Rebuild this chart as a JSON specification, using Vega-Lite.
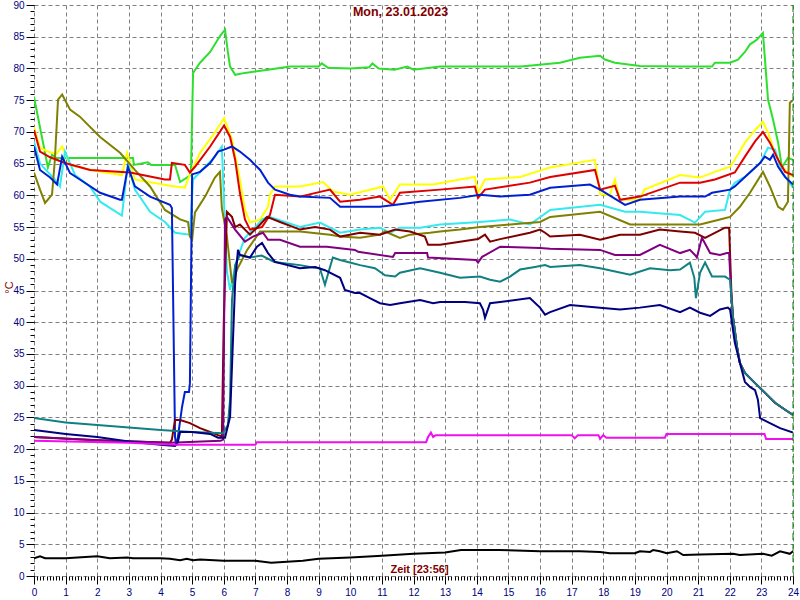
{
  "$schema": "https://vega.github.io/schema/vega-lite/v6.json",
  "width": 759,
  "height": 571,
  "autosize": "none",
  "padding": {"left": 34, "top": 5, "right": 7, "bottom": 24},
  "background": "white",
  "title": {"text": "Mon, 23.01.2023", "anchor": "middle", "offset": -18, "dx": -13, "color": "#800000", "fontSize": 12.5, "font": "Liberation Sans", "fontWeight": "bold"},
  "config": {"view": {"stroke": null}},
  "resolve": {"axis": {"x": "independent", "y": "independent"}},
  "layer": [
    {
      "data": {"values": [
{"s":"s01","h":0,"v":75.5},{"s":"s01","h":0.44,"v":64.4},{"s":"s01","h":0.57,"v":66.4},{"s":"s01","h":0.7,"v":65.9},{"s":"s01","h":3.13,"v":65.9},{"s":"s01","h":3.16,"v":64.8},{"s":"s01","h":3.6,"v":65.2},{"s":"s01","h":3.7,"v":64.8},{"s":"s01","h":4.46,"v":64.8},{"s":"s01","h":4.62,"v":62.1},{"s":"s01","h":4.87,"v":62.9},{"s":"s01","h":4.96,"v":63.2},{"s":"s01","h":5.03,"v":79.3},{"s":"s01","h":5.25,"v":80.9},{"s":"s01","h":5.57,"v":82.6},{"s":"s01","h":5.72,"v":83.8},{"s":"s01","h":5.88,"v":85.1},{"s":"s01","h":6.04,"v":86.1},{"s":"s01","h":6.13,"v":82.6},{"s":"s01","h":6.2,"v":80.3},{"s":"s01","h":6.36,"v":79},{"s":"s01","h":6.67,"v":79.3},{"s":"s01","h":6.99,"v":79.5},{"s":"s01","h":7.4,"v":79.8},{"s":"s01","h":8.09,"v":80.3},{"s":"s01","h":9.0,"v":80.3},{"s":"s01","h":9.1,"v":80.8},{"s":"s01","h":9.3,"v":80.1},{"s":"s01","h":10,"v":80},{"s":"s01","h":10.6,"v":80.2},{"s":"s01","h":10.7,"v":80.8},{"s":"s01","h":10.9,"v":80},{"s":"s01","h":11.4,"v":79.8},{"s":"s01","h":11.8,"v":80.3},{"s":"s01","h":12.0,"v":79.8},{"s":"s01","h":12.84,"v":80.3},{"s":"s01","h":15.4,"v":80.3},{"s":"s01","h":16.63,"v":80.9},{"s":"s01","h":17.26,"v":81.7},{"s":"s01","h":17.9,"v":82},{"s":"s01","h":18.05,"v":81.4},{"s":"s01","h":18.37,"v":80.9},{"s":"s01","h":19.16,"v":80.4},{"s":"s01","h":20.43,"v":80.3},{"s":"s01","h":21.44,"v":80.3},{"s":"s01","h":21.53,"v":80.9},{"s":"s01","h":22.01,"v":80.9},{"s":"s01","h":22.26,"v":81.4},{"s":"s01","h":22.48,"v":82.6},{"s":"s01","h":22.64,"v":83.8},{"s":"s01","h":22.85,"v":84.5},{"s":"s01","h":23.05,"v":85.6},{"s":"s01","h":23.21,"v":75.1},{"s":"s01","h":23.37,"v":71.9},{"s":"s01","h":23.53,"v":68.3},{"s":"s01","h":23.65,"v":64.4},{"s":"s01","h":23.84,"v":65.9},{"s":"s01","h":24,"v":65.6},
{"s":"s02","h":0,"v":70.8},{"s":"s02","h":0.19,"v":67.5},{"s":"s02","h":0.44,"v":66.9},{"s":"s02","h":0.7,"v":66.5},{"s":"s02","h":0.89,"v":67.7},{"s":"s02","h":1.14,"v":64.8},{"s":"s02","h":2.0,"v":63.8},{"s":"s02","h":2.78,"v":63.2},{"s":"s02","h":2.94,"v":66.7},{"s":"s02","h":3.19,"v":62.5},{"s":"s02","h":4.3,"v":61.5},{"s":"s02","h":4.46,"v":61.4},{"s":"s02","h":4.77,"v":61.2},{"s":"s02","h":4.93,"v":63.3},{"s":"s02","h":5.25,"v":66.7},{"s":"s02","h":5.72,"v":69.9},{"s":"s02","h":6.01,"v":72.2},{"s":"s02","h":6.26,"v":68.8},{"s":"s02","h":6.51,"v":62.5},{"s":"s02","h":6.67,"v":57.7},{"s":"s02","h":6.83,"v":55.7},{"s":"s02","h":7.15,"v":56.2},{"s":"s02","h":7.4,"v":58.2},{"s":"s02","h":7.46,"v":60.1},{"s":"s02","h":7.62,"v":61.4},{"s":"s02","h":8.41,"v":61.4},{"s":"s02","h":9.14,"v":62.1},{"s":"s02","h":9.45,"v":60.6},{"s":"s02","h":9.99,"v":60.1},{"s":"s02","h":11.04,"v":61.4},{"s":"s02","h":11.26,"v":59.3},{"s":"s02","h":11.57,"v":61.7},{"s":"s02","h":12.62,"v":61.7},{"s":"s02","h":13.47,"v":62.5},{"s":"s02","h":13.94,"v":62.9},{"s":"s02","h":14.04,"v":60.4},{"s":"s02","h":14.26,"v":62.5},{"s":"s02","h":15.37,"v":62.9},{"s":"s02","h":16.32,"v":64.4},{"s":"s02","h":17.74,"v":65.6},{"s":"s02","h":17.9,"v":60.2},{"s":"s02","h":18.2,"v":60.0},{"s":"s02","h":18.37,"v":62.5},{"s":"s02","h":18.53,"v":59.3},{"s":"s02","h":19.16,"v":59.3},{"s":"s02","h":19.3,"v":60.9},{"s":"s02","h":20.43,"v":63.2},{"s":"s02","h":21.06,"v":62.8},{"s":"s02","h":21.53,"v":63.7},{"s":"s02","h":22.01,"v":64.5},{"s":"s02","h":22.16,"v":65.6},{"s":"s02","h":22.48,"v":68.3},{"s":"s02","h":22.8,"v":70.3},{"s":"s02","h":23.05,"v":71.6},{"s":"s02","h":23.21,"v":69.9},{"s":"s02","h":23.43,"v":66.7},{"s":"s02","h":23.65,"v":64.5},{"s":"s02","h":24,"v":62.9},
{"s":"s03","h":0,"v":68.5},{"s":"s03","h":0.19,"v":65},{"s":"s03","h":0.66,"v":62.5},{"s":"s03","h":0.82,"v":61.4},{"s":"s03","h":0.98,"v":66.9},{"s":"s03","h":1.3,"v":63.2},{"s":"s03","h":1.77,"v":61.4},{"s":"s03","h":2.09,"v":59},{"s":"s03","h":2.78,"v":56.8},{"s":"s03","h":2.97,"v":65.1},{"s":"s03","h":3.19,"v":60.9},{"s":"s03","h":3.67,"v":57.4},{"s":"s03","h":4.14,"v":55.8},{"s":"s03","h":4.46,"v":54.1},{"s":"s03","h":4.93,"v":53.8},{"s":"s03","h":5.03,"v":62.5},{"s":"s03","h":5.41,"v":64.5},{"s":"s03","h":5.72,"v":66.1},{"s":"s03","h":5.94,"v":67.7},{"s":"s03","h":6.0,"v":60},{"s":"s03","h":6.1,"v":48},{"s":"s03","h":6.2,"v":45.1},{"s":"s03","h":6.42,"v":50},{"s":"s03","h":6.67,"v":53.3},{"s":"s03","h":7.0,"v":55},{"s":"s03","h":7.21,"v":56.2},{"s":"s03","h":7.4,"v":56.7},{"s":"s03","h":8.41,"v":55},{"s":"s03","h":9.04,"v":55.7},{"s":"s03","h":9.68,"v":54.1},{"s":"s03","h":10.31,"v":54.6},{"s":"s03","h":10.94,"v":54.9},{"s":"s03","h":11.26,"v":54.1},{"s":"s03","h":11.57,"v":54.9},{"s":"s03","h":12.21,"v":54.9},{"s":"s03","h":12.84,"v":55.4},{"s":"s03","h":14.1,"v":55.8},{"s":"s03","h":15.05,"v":56.2},{"s":"s03","h":15.68,"v":55.4},{"s":"s03","h":16.32,"v":57.7},{"s":"s03","h":17.9,"v":58.5},{"s":"s03","h":18.69,"v":57.4},{"s":"s03","h":19.16,"v":57.4},{"s":"s03","h":20.43,"v":56.9},{"s":"s03","h":20.9,"v":55.7},{"s":"s03","h":21.22,"v":57.4},{"s":"s03","h":21.85,"v":57.7},{"s":"s03","h":22.01,"v":60.9},{"s":"s03","h":22.16,"v":62},{"s":"s03","h":22.48,"v":62.9},{"s":"s03","h":22.96,"v":65.1},{"s":"s03","h":23.21,"v":67.5},{"s":"s03","h":23.43,"v":67.2},{"s":"s03","h":23.65,"v":63.6},{"s":"s03","h":24,"v":61.2},
{"s":"s04","h":0,"v":63.6},{"s":"s04","h":0.19,"v":60.9},{"s":"s04","h":0.35,"v":58.8},{"s":"s04","h":0.57,"v":60.1},{"s":"s04","h":0.66,"v":65.6},{"s":"s04","h":0.76,"v":75.1},{"s":"s04","h":0.89,"v":75.9},{"s":"s04","h":1.14,"v":73.5},{"s":"s04","h":1.45,"v":72.4},{"s":"s04","h":2.09,"v":69.2},{"s":"s04","h":2.72,"v":66.7},{"s":"s04","h":3.19,"v":64},{"s":"s04","h":3.67,"v":61.4},{"s":"s04","h":4.14,"v":57.7},{"s":"s04","h":4.62,"v":56.2},{"s":"s04","h":4.87,"v":55.8},{"s":"s04","h":4.93,"v":53.5},{"s":"s04","h":5.0,"v":53},{"s":"s04","h":5.09,"v":57.3},{"s":"s04","h":5.41,"v":59.8},{"s":"s04","h":5.72,"v":62.8},{"s":"s04","h":5.88,"v":63.7},{"s":"s04","h":5.94,"v":58},{"s":"s04","h":6.1,"v":53.5},{"s":"s04","h":6.26,"v":46.2},{"s":"s04","h":6.42,"v":48.3},{"s":"s04","h":6.74,"v":51.4},{"s":"s04","h":7.15,"v":54.3},{"s":"s04","h":8.41,"v":54.3},{"s":"s04","h":9.36,"v":53.8},{"s":"s04","h":9.68,"v":53.5},{"s":"s04","h":10.31,"v":53.3},{"s":"s04","h":10.94,"v":53.8},{"s":"s04","h":11.1,"v":54.3},{"s":"s04","h":11.57,"v":53.3},{"s":"s04","h":11.89,"v":53.8},{"s":"s04","h":12.52,"v":54.1},{"s":"s04","h":12.84,"v":54.3},{"s":"s04","h":13.47,"v":54.6},{"s":"s04","h":14.1,"v":55},{"s":"s04","h":15.05,"v":55.4},{"s":"s04","h":16.0,"v":55.8},{"s":"s04","h":16.32,"v":56.6},{"s":"s04","h":17.9,"v":57.4},{"s":"s04","h":18.85,"v":55.4},{"s":"s04","h":20.43,"v":55.4},{"s":"s04","h":21.06,"v":55.4},{"s":"s04","h":21.69,"v":56.2},{"s":"s04","h":22.01,"v":56.6},{"s":"s04","h":22.32,"v":58.2},{"s":"s04","h":22.64,"v":60.4},{"s":"s04","h":23.05,"v":63.7},{"s":"s04","h":23.27,"v":61.4},{"s":"s04","h":23.53,"v":58.2},{"s":"s04","h":23.68,"v":57.7},{"s":"s04","h":23.84,"v":59},{"s":"s04","h":23.9,"v":74.6},{"s":"s04","h":24,"v":75},
{"s":"s05","h":0,"v":70.3},{"s":"s05","h":0.19,"v":66.9},{"s":"s05","h":0.51,"v":66},{"s":"s05","h":0.98,"v":65.1},{"s":"s05","h":1.77,"v":64},{"s":"s05","h":3.04,"v":63.6},{"s":"s05","h":4.14,"v":62.5},{"s":"s05","h":4.3,"v":62.5},{"s":"s05","h":4.36,"v":65.1},{"s":"s05","h":4.77,"v":64.8},{"s":"s05","h":4.93,"v":63.6},{"s":"s05","h":5.09,"v":64.5},{"s":"s05","h":5.57,"v":67.7},{"s":"s05","h":6.01,"v":71},{"s":"s05","h":6.2,"v":69.2},{"s":"s05","h":6.36,"v":65.6},{"s":"s05","h":6.51,"v":60.4},{"s":"s05","h":6.67,"v":56.2},{"s":"s05","h":6.83,"v":54.6},{"s":"s05","h":7.21,"v":55},{"s":"s05","h":7.46,"v":56.9},{"s":"s05","h":7.62,"v":60.1},{"s":"s05","h":8.41,"v":59.8},{"s":"s05","h":9.36,"v":60.9},{"s":"s05","h":9.68,"v":59},{"s":"s05","h":10.31,"v":59.3},{"s":"s05","h":10.94,"v":59.8},{"s":"s05","h":11.35,"v":58.5},{"s":"s05","h":11.57,"v":60.4},{"s":"s05","h":12.84,"v":60.9},{"s":"s05","h":13.94,"v":61.4},{"s":"s05","h":14.04,"v":59.6},{"s":"s05","h":14.26,"v":60.9},{"s":"s05","h":15.68,"v":62},{"s":"s05","h":16.32,"v":62.9},{"s":"s05","h":17.74,"v":64},{"s":"s05","h":17.9,"v":60.9},{"s":"s05","h":18.37,"v":61.5},{"s":"s05","h":18.53,"v":59.3},{"s":"s05","h":19.16,"v":59.8},{"s":"s05","h":20.43,"v":62},{"s":"s05","h":21.06,"v":62},{"s":"s05","h":21.53,"v":62.5},{"s":"s05","h":22.16,"v":63.6},{"s":"s05","h":22.48,"v":66.1},{"s":"s05","h":22.8,"v":68.5},{"s":"s05","h":23.05,"v":70},{"s":"s05","h":23.27,"v":68.3},{"s":"s05","h":23.53,"v":65.6},{"s":"s05","h":23.75,"v":63.7},{"s":"s05","h":24,"v":63.2},
{"s":"s06","h":0,"v":67.7},{"s":"s06","h":0.19,"v":64},{"s":"s06","h":0.51,"v":62.8},{"s":"s06","h":0.73,"v":61.7},{"s":"s06","h":0.89,"v":66.1},{"s":"s06","h":1.14,"v":63.5},{"s":"s06","h":1.45,"v":62.5},{"s":"s06","h":2.09,"v":60.4},{"s":"s06","h":2.72,"v":59.3},{"s":"s06","h":2.78,"v":59.3},{"s":"s06","h":2.97,"v":64.5},{"s":"s06","h":3.19,"v":61.4},{"s":"s06","h":3.67,"v":59.8},{"s":"s06","h":4.3,"v":58.5},{"s":"s06","h":4.36,"v":58},{"s":"s06","h":4.46,"v":21.9},{"s":"s06","h":4.5,"v":20.5},{"s":"s06","h":4.55,"v":21.9},{"s":"s06","h":4.68,"v":26.6},{"s":"s06","h":4.77,"v":29},{"s":"s06","h":4.9,"v":29},{"s":"s06","h":4.93,"v":30.4},{"s":"s06","h":5.0,"v":63.3},{"s":"s06","h":5.25,"v":63.7},{"s":"s06","h":5.57,"v":65.1},{"s":"s06","h":5.82,"v":66.9},{"s":"s06","h":6.01,"v":67.2},{"s":"s06","h":6.26,"v":67.7},{"s":"s06","h":6.51,"v":66.9},{"s":"s06","h":6.83,"v":65.6},{"s":"s06","h":7.15,"v":64},{"s":"s06","h":7.4,"v":62},{"s":"s06","h":7.62,"v":60.9},{"s":"s06","h":8.09,"v":60.1},{"s":"s06","h":8.41,"v":59.8},{"s":"s06","h":9.36,"v":59.6},{"s":"s06","h":9.68,"v":58.2},{"s":"s06","h":10.94,"v":58.2},{"s":"s06","h":12.21,"v":59},{"s":"s06","h":13.47,"v":59.6},{"s":"s06","h":14.1,"v":60.1},{"s":"s06","h":14.74,"v":59.8},{"s":"s06","h":15.68,"v":60.1},{"s":"s06","h":16.32,"v":61.2},{"s":"s06","h":17.58,"v":61.7},{"s":"s06","h":17.9,"v":60.9},{"s":"s06","h":18.69,"v":58.5},{"s":"s06","h":19.16,"v":59.3},{"s":"s06","h":20.43,"v":59.8},{"s":"s06","h":21.22,"v":59.8},{"s":"s06","h":21.44,"v":60.4},{"s":"s06","h":22.01,"v":60.9},{"s":"s06","h":22.16,"v":61.4},{"s":"s06","h":22.48,"v":62.9},{"s":"s06","h":22.96,"v":65.1},{"s":"s06","h":23.11,"v":66.1},{"s":"s06","h":23.27,"v":65.6},{"s":"s06","h":23.37,"v":66.4},{"s":"s06","h":23.53,"v":64.5},{"s":"s06","h":23.75,"v":62.9},{"s":"s06","h":24,"v":61.7},
{"s":"s07","h":0,"v":21.9},{"s":"s07","h":2,"v":21.4},{"s":"s07","h":4.3,"v":21.0},{"s":"s07","h":4.36,"v":21.5},{"s":"s07","h":4.46,"v":24.6},{"s":"s07","h":4.62,"v":24.6},{"s":"s07","h":4.93,"v":24.1},{"s":"s07","h":5.25,"v":23.3},{"s":"s07","h":5.57,"v":22.7},{"s":"s07","h":5.82,"v":22.2},{"s":"s07","h":5.94,"v":22.0},{"s":"s07","h":6.0,"v":40},{"s":"s07","h":6.1,"v":57.4},{"s":"s07","h":6.26,"v":56.6},{"s":"s07","h":6.36,"v":55},{"s":"s07","h":6.51,"v":55.4},{"s":"s07","h":6.83,"v":53.8},{"s":"s07","h":7.15,"v":55.4},{"s":"s07","h":7.37,"v":56.6},{"s":"s07","h":7.78,"v":55.8},{"s":"s07","h":8.41,"v":54.6},{"s":"s07","h":8.89,"v":55},{"s":"s07","h":9.36,"v":54.6},{"s":"s07","h":9.68,"v":53.5},{"s":"s07","h":9.99,"v":53.8},{"s":"s07","h":10.31,"v":54.1},{"s":"s07","h":10.94,"v":53.8},{"s":"s07","h":11.42,"v":54.6},{"s":"s07","h":11.89,"v":54.3},{"s":"s07","h":12.36,"v":53.5},{"s":"s07","h":12.46,"v":52.2},{"s":"s07","h":12.84,"v":52.2},{"s":"s07","h":13.47,"v":52.7},{"s":"s07","h":14.04,"v":53.1},{"s":"s07","h":14.1,"v":53.3},{"s":"s07","h":14.26,"v":53.8},{"s":"s07","h":14.42,"v":52.7},{"s":"s07","h":14.74,"v":53.1},{"s":"s07","h":15.68,"v":54.1},{"s":"s07","h":16.0,"v":54.6},{"s":"s07","h":16.16,"v":54.1},{"s":"s07","h":16.32,"v":53.5},{"s":"s07","h":17.26,"v":53.8},{"s":"s07","h":17.9,"v":53},{"s":"s07","h":18.53,"v":53.8},{"s":"s07","h":19.16,"v":53.8},{"s":"s07","h":19.79,"v":54.6},{"s":"s07","h":20.43,"v":54.3},{"s":"s07","h":20.9,"v":54.1},{"s":"s07","h":21.22,"v":53.3},{"s":"s07","h":21.53,"v":54.1},{"s":"s07","h":21.85,"v":54.9},{"s":"s07","h":21.98,"v":54.9},{"s":"s07","h":22.05,"v":45},{"s":"s07","h":22.1,"v":40.9},{"s":"s07","h":22.23,"v":36.1},{"s":"s07","h":22.32,"v":33.6},{"s":"s07","h":22.48,"v":32},{"s":"s07","h":22.8,"v":30.4},{"s":"s07","h":23.11,"v":28.9},{"s":"s07","h":23.43,"v":27.3},{"s":"s07","h":23.75,"v":26.2},{"s":"s07","h":24,"v":25.4},
{"s":"s08","h":0,"v":21.9},{"s":"s08","h":2,"v":21.4},{"s":"s08","h":4.3,"v":21.0},{"s":"s08","h":5.9,"v":21.3},{"s":"s08","h":5.98,"v":21.5},{"s":"s08","h":6.04,"v":56.2},{"s":"s08","h":6.1,"v":56.6},{"s":"s08","h":6.36,"v":54.6},{"s":"s08","h":6.67,"v":52.7},{"s":"s08","h":6.92,"v":53.5},{"s":"s08","h":7.24,"v":54.1},{"s":"s08","h":7.4,"v":53},{"s":"s08","h":7.78,"v":53},{"s":"s08","h":8.41,"v":51.9},{"s":"s08","h":9.26,"v":51.9},{"s":"s08","h":10.15,"v":51.4},{"s":"s08","h":10.25,"v":51.1},{"s":"s08","h":11.35,"v":50.3},{"s":"s08","h":11.42,"v":50.9},{"s":"s08","h":12.43,"v":50.9},{"s":"s08","h":12.46,"v":50.2},{"s":"s08","h":13.98,"v":49.8},{"s":"s08","h":14.04,"v":49.4},{"s":"s08","h":14.17,"v":50.3},{"s":"s08","h":14.74,"v":51.9},{"s":"s08","h":16.0,"v":51.7},{"s":"s08","h":16.32,"v":51.6},{"s":"s08","h":17.9,"v":51.4},{"s":"s08","h":18.37,"v":50.6},{"s":"s08","h":19.16,"v":50.6},{"s":"s08","h":19.79,"v":52.2},{"s":"s08","h":20.43,"v":50.9},{"s":"s08","h":20.74,"v":51.4},{"s":"s08","h":20.9,"v":50.6},{"s":"s08","h":20.96,"v":50.2},{"s":"s08","h":21.12,"v":53.3},{"s":"s08","h":21.38,"v":50.9},{"s":"s08","h":21.69,"v":50.6},{"s":"s08","h":21.91,"v":50.9},{"s":"s08","h":21.98,"v":50.9},{"s":"s08","h":22.05,"v":44},{"s":"s08","h":22.1,"v":40.9},{"s":"s08","h":22.23,"v":36.1},{"s":"s08","h":22.32,"v":33.6},{"s":"s08","h":22.48,"v":32},{"s":"s08","h":22.8,"v":30.4},{"s":"s08","h":23.11,"v":28.9},{"s":"s08","h":23.43,"v":27.3},{"s":"s08","h":23.75,"v":26.2},{"s":"s08","h":24,"v":25.4},
{"s":"s09","h":0,"v":24.9},{"s":"s09","h":1,"v":24.2},{"s":"s09","h":2,"v":23.8},{"s":"s09","h":3,"v":23.4},{"s":"s09","h":4,"v":23},{"s":"s09","h":5,"v":22.7},{"s":"s09","h":5.98,"v":22.5},{"s":"s09","h":6.13,"v":23.8},{"s":"s09","h":6.2,"v":27.8},{"s":"s09","h":6.26,"v":43.5},{"s":"s09","h":6.36,"v":49},{"s":"s09","h":6.51,"v":50.6},{"s":"s09","h":6.83,"v":50.2},{"s":"s09","h":7.2,"v":50.5},{"s":"s09","h":7.6,"v":49.5},{"s":"s09","h":8.41,"v":49},{"s":"s09","h":8.73,"v":48.7},{"s":"s09","h":9.04,"v":48.5},{"s":"s09","h":9.2,"v":45.9},{"s":"s09","h":9.36,"v":48.7},{"s":"s09","h":9.45,"v":50.2},{"s":"s09","h":9.68,"v":49.8},{"s":"s09","h":9.99,"v":49.4},{"s":"s09","h":10.31,"v":49},{"s":"s09","h":10.78,"v":48.5},{"s":"s09","h":11.1,"v":47.4},{"s":"s09","h":11.42,"v":47.2},{"s":"s09","h":11.57,"v":47.8},{"s":"s09","h":12.21,"v":48.5},{"s":"s09","h":12.84,"v":47.8},{"s":"s09","h":13.47,"v":47},{"s":"s09","h":14.1,"v":47.2},{"s":"s09","h":14.42,"v":46.7},{"s":"s09","h":14.74,"v":46.4},{"s":"s09","h":15.05,"v":47.2},{"s":"s09","h":15.37,"v":48.3},{"s":"s09","h":15.84,"v":48.7},{"s":"s09","h":16.16,"v":49},{"s":"s09","h":16.32,"v":48.7},{"s":"s09","h":17.26,"v":49},{"s":"s09","h":17.9,"v":48.5},{"s":"s09","h":18.85,"v":47.5},{"s":"s09","h":19.48,"v":48.5},{"s":"s09","h":20.11,"v":48.2},{"s":"s09","h":20.43,"v":48.3},{"s":"s09","h":20.74,"v":49.4},{"s":"s09","h":20.88,"v":47},{"s":"s09","h":20.93,"v":43.8},{"s":"s09","h":21.06,"v":47.8},{"s":"s09","h":21.22,"v":49.4},{"s":"s09","h":21.44,"v":47.2},{"s":"s09","h":21.85,"v":47.2},{"s":"s09","h":22.01,"v":46.7},{"s":"s09","h":22.1,"v":40.9},{"s":"s09","h":22.23,"v":36.1},{"s":"s09","h":22.32,"v":33.6},{"s":"s09","h":22.48,"v":32},{"s":"s09","h":22.8,"v":30.4},{"s":"s09","h":23.11,"v":28.9},{"s":"s09","h":23.43,"v":27.3},{"s":"s09","h":23.75,"v":26.2},{"s":"s09","h":24,"v":25.4},
{"s":"s10","h":0,"v":23},{"s":"s10","h":1,"v":22.4},{"s":"s10","h":2,"v":21.9},{"s":"s10","h":3,"v":21.2},{"s":"s10","h":4,"v":20.7},{"s":"s10","h":4.46,"v":20.5},{"s":"s10","h":4.55,"v":21.1},{"s":"s10","h":4.62,"v":22.7},{"s":"s10","h":5.0,"v":22.7},{"s":"s10","h":5.57,"v":22.4},{"s":"s10","h":5.82,"v":21.8},{"s":"s10","h":6.04,"v":21.8},{"s":"s10","h":6.2,"v":25.1},{"s":"s10","h":6.26,"v":33},{"s":"s10","h":6.36,"v":46.2},{"s":"s10","h":6.45,"v":51.4},{"s":"s10","h":6.51,"v":50.6},{"s":"s10","h":6.83,"v":50.2},{"s":"s10","h":7.05,"v":51.9},{"s":"s10","h":7.21,"v":52.5},{"s":"s10","h":7.4,"v":50.9},{"s":"s10","h":7.62,"v":49.5},{"s":"s10","h":8.41,"v":48.5},{"s":"s10","h":8.89,"v":48.7},{"s":"s10","h":9.2,"v":48.2},{"s":"s10","h":9.68,"v":47},{"s":"s10","h":9.83,"v":45.1},{"s":"s10","h":10.15,"v":44.6},{"s":"s10","h":10.31,"v":44.6},{"s":"s10","h":10.62,"v":43.8},{"s":"s10","h":10.94,"v":43},{"s":"s10","h":11.26,"v":42.7},{"s":"s10","h":11.57,"v":43},{"s":"s10","h":12.21,"v":43.5},{"s":"s10","h":12.62,"v":43},{"s":"s10","h":12.84,"v":43.2},{"s":"s10","h":13.63,"v":43.2},{"s":"s10","h":14.1,"v":43},{"s":"s10","h":14.2,"v":42},{"s":"s10","h":14.26,"v":40.7},{"s":"s10","h":14.42,"v":43},{"s":"s10","h":14.74,"v":43.2},{"s":"s10","h":15.68,"v":43.8},{"s":"s10","h":16.0,"v":42.3},{"s":"s10","h":16.16,"v":41.2},{"s":"s10","h":16.32,"v":41.6},{"s":"s10","h":16.95,"v":42.7},{"s":"s10","h":17.9,"v":42.3},{"s":"s10","h":18.53,"v":42},{"s":"s10","h":19.16,"v":42.3},{"s":"s10","h":19.79,"v":42.7},{"s":"s10","h":20.43,"v":41.6},{"s":"s10","h":20.74,"v":42.3},{"s":"s10","h":21.06,"v":41.5},{"s":"s10","h":21.38,"v":41},{"s":"s10","h":21.69,"v":42},{"s":"s10","h":21.94,"v":42.3},{"s":"s10","h":22.01,"v":42},{"s":"s10","h":22.16,"v":36.8},{"s":"s10","h":22.32,"v":33.6},{"s":"s10","h":22.48,"v":30.6},{"s":"s10","h":22.64,"v":29.8},{"s":"s10","h":22.8,"v":29.3},{"s":"s10","h":22.89,"v":27.8},{"s":"s10","h":22.96,"v":24.9},{"s":"s10","h":23.27,"v":24.1},{"s":"s10","h":23.59,"v":23.3},{"s":"s10","h":24,"v":22.6},
{"s":"s11","h":0,"v":21.3},{"s":"s11","h":3,"v":21.0},{"s":"s11","h":4.5,"v":20.7},{"s":"s11","h":7.0,"v":20.7},{"s":"s11","h":7.05,"v":21.1},{"s":"s11","h":12.4,"v":21.1},{"s":"s11","h":12.46,"v":21.9},{"s":"s11","h":12.55,"v":22.6},{"s":"s11","h":12.62,"v":21.9},{"s":"s11","h":12.7,"v":22.2},{"s":"s11","h":17.0,"v":22.2},{"s":"s11","h":17.1,"v":21.7},{"s":"s11","h":17.2,"v":22.2},{"s":"s11","h":17.85,"v":22.2},{"s":"s11","h":17.9,"v":21.6},{"s":"s11","h":18.0,"v":22.2},{"s":"s11","h":18.1,"v":21.8},{"s":"s11","h":19.95,"v":21.8},{"s":"s11","h":20.0,"v":22.4},{"s":"s11","h":23.1,"v":22.4},{"s":"s11","h":23.15,"v":21.6},{"s":"s11","h":24,"v":21.6},
{"s":"s12","h":0,"v":2.8},{"s":"s12","h":0.19,"v":3.1},{"s":"s12","h":0.35,"v":2.8},{"s":"s12","h":1.0,"v":2.8},{"s":"s12","h":2.0,"v":3.1},{"s":"s12","h":2.4,"v":2.8},{"s":"s12","h":2.95,"v":2.9},{"s":"s12","h":3.13,"v":2.8},{"s":"s12","h":4.0,"v":2.8},{"s":"s12","h":4.3,"v":2.7},{"s":"s12","h":4.62,"v":2.5},{"s":"s12","h":4.83,"v":2.7},{"s":"s12","h":5.03,"v":2.5},{"s":"s12","h":5.25,"v":2.6},{"s":"s12","h":6.0,"v":2.4},{"s":"s12","h":7.0,"v":2.4},{"s":"s12","h":7.5,"v":2.1},{"s":"s12","h":8.5,"v":2.4},{"s":"s12","h":9.0,"v":2.7},{"s":"s12","h":10.0,"v":2.9},{"s":"s12","h":11.0,"v":3.2},{"s":"s12","h":12.0,"v":3.5},{"s":"s12","h":13.0,"v":3.7},{"s":"s12","h":13.5,"v":4.1},{"s":"s12","h":14.7,"v":4.1},{"s":"s12","h":16.0,"v":3.9},{"s":"s12","h":17.26,"v":3.9},{"s":"s12","h":17.9,"v":3.8},{"s":"s12","h":18.21,"v":3.6},{"s":"s12","h":19.0,"v":3.6},{"s":"s12","h":19.16,"v":3.9},{"s":"s12","h":19.48,"v":3.8},{"s":"s12","h":19.58,"v":4.1},{"s":"s12","h":19.79,"v":3.9},{"s":"s12","h":20.01,"v":3.6},{"s":"s12","h":20.33,"v":3.9},{"s":"s12","h":20.53,"v":3.3},{"s":"s12","h":21.06,"v":3.4},{"s":"s12","h":22.1,"v":3.5},{"s":"s12","h":22.32,"v":3.3},{"s":"s12","h":23.05,"v":3.5},{"s":"s12","h":23.33,"v":3.2},{"s":"s12","h":23.59,"v":3.9},{"s":"s12","h":23.9,"v":3.5},{"s":"s12","h":24,"v":3.9}
      ]},
      "mark": {"type": "line", "strokeWidth": 2, "interpolate": "linear", "clip": true},
      "encoding": {
        "x": {"field": "h", "type": "quantitative", "scale": {"domain": [0, 24], "nice": false, "zero": false},
          "axis": {"orient": "bottom", "values": [0,1,2,3,4,5,6,7,8,9,10,11,12,13,14,15,16,17,18,19,20,21,22,23,24], "format": "d", "grid": true, "gridColor": "#808080", "gridDash": [4, 3], "gridWidth": 1, "domain": false, "ticks": true, "tickSize": 8, "tickColor": "#000000", "tickWidth": 1, "labelColor": "#000080", "labelFont": "Liberation Sans", "labelFontSize": 10, "labelPadding": 3, "labelFlush": false, "labelOverlap": false, "labelBound": false, "title": "Zeit [23:56]", "titleColor": "#800000", "titleFont": "Liberation Sans", "titleFontSize": 11, "titleFontWeight": "bold", "titleX": 385, "titleY": -4, "titleBaseline": "alphabetic", "titleAlign": "center"}},
        "y": {"field": "v", "type": "quantitative", "scale": {"domain": [0, 90], "nice": false, "zero": false},
          "axis": {"orient": "left", "values": [0,5,10,15,20,25,30,35,40,45,50,55,60,65,70,75,80,85,90], "format": "d", "grid": true, "gridColor": "#808080", "gridDash": [4, 3], "gridWidth": 1, "domain": false, "ticks": true, "tickSize": 8, "tickColor": "#000000", "tickWidth": 1, "labelColor": "#000080", "labelFont": "Liberation Sans", "labelFontSize": 10, "labelPadding": 2, "labelFlush": false, "labelOverlap": false, "labelBound": false, "title": "°C", "titleColor": "#800000", "titleFont": "Liberation Sans", "titleFontSize": 11, "titleFontWeight": "normal", "titleAngle": -90, "titleX": -25, "titleY": 282, "titleBaseline": "middle", "titleAlign": "center"}},
        "color": {"field": "s", "type": "nominal", "legend": null,
          "scale": {"domain": ["s01","s02","s03","s04","s05","s06","s07","s08","s09","s10","s11","s12"],
                    "range": ["#2ee02e","#ffff00","#33eaf0","#808000","#e00000","#0020d0","#800000","#800080","#108080","#000080","#ee10ee","#000000"]}}
      }
    },
    {
      "data": {"values": [{"h": 24}]},
      "mark": {"type": "rule", "color": "#008000", "strokeDash": [7, 4], "strokeWidth": 1},
      "encoding": {
        "x": {"field": "h", "type": "quantitative",
          "axis": {"orient": "bottom", "values": [0,0.1,0.2,0.3,0.4,0.5,0.6,0.7,0.8,0.9,1,1.1,1.2,1.3,1.4,1.5,1.6,1.7,1.8,1.9,2,2.1,2.2,2.3,2.4,2.5,2.6,2.7,2.8,2.9,3,3.1,3.2,3.3,3.4,3.5,3.6,3.7,3.8,3.9,4,4.1,4.2,4.3,4.4,4.5,4.6,4.7,4.8,4.9,5,5.1,5.2,5.3,5.4,5.5,5.6,5.7,5.8,5.9,6,6.1,6.2,6.3,6.4,6.5,6.6,6.7,6.8,6.9,7,7.1,7.2,7.3,7.4,7.5,7.6,7.7,7.8,7.9,8,8.1,8.2,8.3,8.4,8.5,8.6,8.7,8.8,8.9,9,9.1,9.2,9.3,9.4,9.5,9.6,9.7,9.8,9.9,10,10.1,10.2,10.3,10.4,10.5,10.6,10.7,10.8,10.9,11,11.1,11.2,11.3,11.4,11.5,11.6,11.7,11.8,11.9,12,12.1,12.2,12.3,12.4,12.5,12.6,12.7,12.8,12.9,13,13.1,13.2,13.3,13.4,13.5,13.6,13.7,13.8,13.9,14,14.1,14.2,14.3,14.4,14.5,14.6,14.7,14.8,14.9,15,15.1,15.2,15.3,15.4,15.5,15.6,15.7,15.8,15.9,16,16.1,16.2,16.3,16.4,16.5,16.6,16.7,16.8,16.9,17,17.1,17.2,17.3,17.4,17.5,17.6,17.7,17.8,17.9,18,18.1,18.2,18.3,18.4,18.5,18.6,18.7,18.8,18.9,19,19.1,19.2,19.3,19.4,19.5,19.6,19.7,19.8,19.9,20,20.1,20.2,20.3,20.4,20.5,20.6,20.7,20.8,20.9,21,21.1,21.2,21.3,21.4,21.5,21.6,21.7,21.8,21.9,22,22.1,22.2,22.3,22.4,22.5,22.6,22.7,22.8,22.9,23,23.1,23.2,23.3,23.4,23.5,23.6,23.7,23.8,23.9,24], "grid": false, "domain": false, "labels": false, "ticks": true, "tickSize": 4, "tickColor": "#000000", "tickWidth": 1, "title": null}}
      }
    },
    {
      "data": {"values": [{"h": 0, "v": 0}]},
      "mark": {"type": "point", "opacity": 0},
      "encoding": {
        "x": {"field": "h", "type": "quantitative", "axis": null},
        "y": {"field": "v", "type": "quantitative",
          "axis": {"orient": "left", "values": [0,1,2,3,4,5,6,7,8,9,10,11,12,13,14,15,16,17,18,19,20,21,22,23,24,25,26,27,28,29,30,31,32,33,34,35,36,37,38,39,40,41,42,43,44,45,46,47,48,49,50,51,52,53,54,55,56,57,58,59,60,61,62,63,64,65,66,67,68,69,70,71,72,73,74,75,76,77,78,79,80,81,82,83,84,85,86,87,88,89,90], "grid": false, "domain": false, "labels": false, "ticks": true, "tickSize": 4, "tickColor": "#000000", "tickWidth": 1, "title": null}}
      }
    }
  ]
}
